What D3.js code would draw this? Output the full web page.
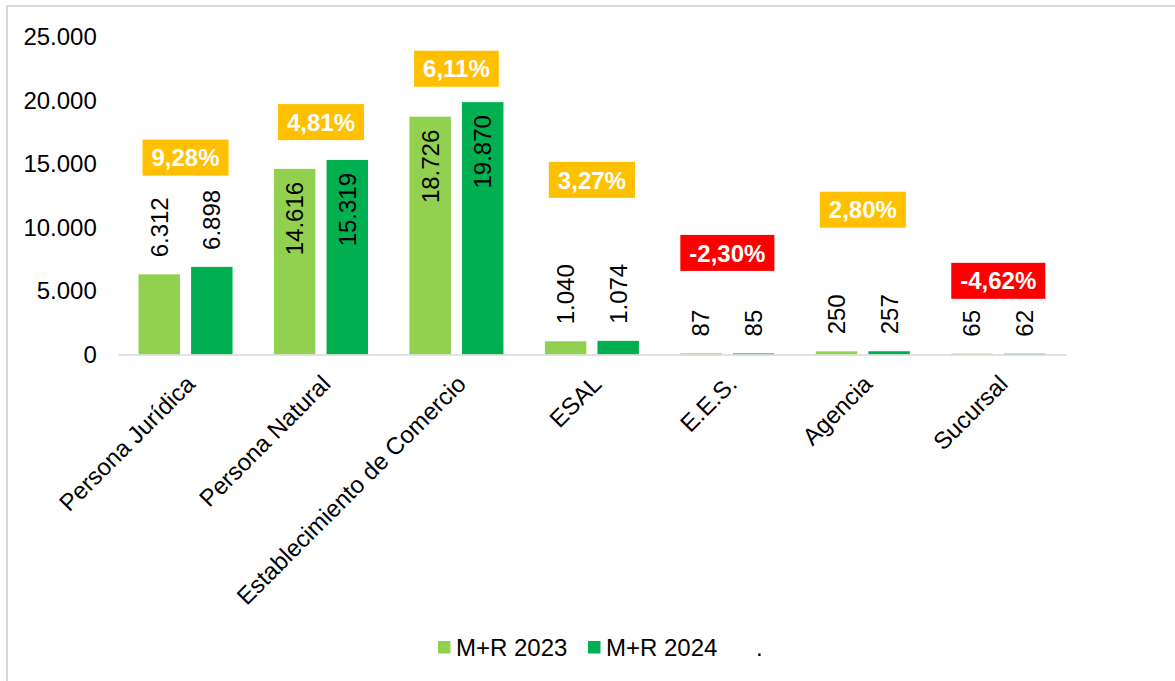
<!DOCTYPE html>
<html lang="es">

<head>
    <meta charset="UTF-8">
    <title>M+R 2023 vs 2024</title>
    <style>
        body { margin: 0; background: #fff; }
        svg { display: block; font-family: "Liberation Sans", Arial, sans-serif; }
    </style>
</head>

<body>
    <script src="https://d3js.org/d3.v7.min.js"></script>
    <script>
        // data
        const categories = ["Persona Jurídica", "Persona Natural", "Establecimiento de Comercio", "ESAL", "E.E.S.", "Agencia", "Sucursal"];
        const series = ["M+R 2023", "M+R 2024"];
        const values2023 = [6312, 14616, 18726, 1040, 87, 250, 65];
        const values2024 = [6898, 15319, 19870, 1074, 85, 257, 62];
        const changePct = [9.28, 4.81, 6.11, 3.27, -2.30, 2.80, -4.62];
        // hidden "." series that carries the % labels
        const dotSeries = [15500, 18300, 22500, 13750, 8000, 11400, 5800];
        const yTicks = [0, 5000, 10000, 15000, 20000, 25000];

        const width = 1175;
        const height = 681;
        const colors = ["#92D050", "#00B050"];
        const axisGray = "#D9D9D9";
        const fontSize = 24;

        const locale = d3.formatLocale({ decimal: ",", thousands: ".", grouping: [3], currency: ["$", ""], minus: "-" });
        const fmtInt = locale.format(",d");
        const fmtPct = locale.format(".2f");

        const svg = d3.select("body").append("svg")
            .attr("width", width)
            .attr("height", height);

        // outer frame
        svg.append("rect")
            .attr("x", 7).attr("y", 6)
            .attr("width", width + 10).attr("height", height + 10)
            .attr("fill", "none")
            .attr("stroke", axisGray)
            .attr("stroke-width", 2);

        const x = d3.scaleBand()
            .domain(categories)
            .range([117.8, 1066])
            .paddingInner(0.306)
            .paddingOuter(0.153);

        const xs = d3.scaleBand()
            .domain(series)
            .range([0, x.bandwidth()])
            .paddingInner(0.212);

        const y = d3.scaleLinear()
            .domain([0, 25000])
            .range([354.5, 37]);

        // y axis (labels only)
        const yAxis = svg.append("g")
            .attr("transform", `translate(117.8,0)`)
            .call(d3.axisLeft(y).tickValues(yTicks).tickFormat(fmtInt).tickSize(0).tickPadding(21));
        yAxis.select(".domain").remove();
        yAxis.selectAll("text")
            .attr("font-family", "Liberation Sans, Arial, sans-serif")
            .attr("font-size", fontSize)
            .attr("fill", "#000");

        // bars
        const rows = categories.map((c, i) => ({ cat: c, vals: [values2023[i], values2024[i]] }));

        const groups = svg.selectAll(".grp")
            .data(rows)
            .enter()
            .append("g")
            .attr("class", "grp")
            .attr("transform", d => `translate(${x(d.cat)},0)`);

        const cells = groups.selectAll(".bar")
            .data(d => d.vals.map((v, j) => ({ s: series[j], v: v, j: j })))
            .enter();

        cells.append("rect")
            .attr("class", "bar")
            .attr("x", d => xs(d.s))
            .attr("y", d => y(d.v))
            .attr("width", xs.bandwidth())
            .attr("height", d => y(0) - y(d.v))
            .attr("fill", d => colors[d.j]);

        // value labels, rotated; tall bars get them inside
        cells.append("text")
            .attr("transform", d => {
                const cx = xs(d.s) + xs.bandwidth() / 2;
                const ty = d.v > 10000 ? y(d.v) + 13 : y(d.v) - 17;
                return `translate(${cx},${ty}) rotate(-90)`;
            })
            .attr("text-anchor", d => d.v > 10000 ? "end" : "start")
            .attr("dy", "0.35em")
            .attr("font-size", fontSize)
            .attr("fill", "#000")
            .text(d => fmtInt(d.v));

        // x axis
        const xAxis = svg.append("g")
            .attr("transform", `translate(0,${y(0)})`)
            .call(d3.axisBottom(x).tickSize(0).tickSizeOuter(0));
        xAxis.select(".domain")
            .attr("stroke", axisGray)
            .attr("stroke-width", 1.5);
        xAxis.selectAll("text")
            .attr("x", 0).attr("y", 0).attr("dy", 0)
            .attr("transform", "translate(11,31) rotate(-45)")
            .attr("text-anchor", "end")
            .attr("font-family", "Liberation Sans, Arial, sans-serif")
            .attr("font-size", fontSize)
            .attr("fill", "#000");

        // % change boxes from the hidden series
        const pct = svg.selectAll(".pct")
            .data(categories.map((c, i) => ({ cat: c, p: changePct[i], v: dotSeries[i] })))
            .enter()
            .append("g")
            .attr("class", "pct")
            .attr("transform", d => `translate(${x(d.cat) + x.bandwidth() / 2},${y(d.v)})`);

        pct.append("rect");
        const pctText = pct.append("text")
            .attr("text-anchor", "middle")
            .attr("dy", "0.36em")
            .attr("font-size", fontSize)
            .attr("font-weight", "bold")
            .attr("fill", "white")
            .text(d => fmtPct(d.p) + "%");

        pctText.each(function (d) {
            const w = this.getComputedTextLength() + 18;
            d3.select(this.parentNode).select("rect")
                .attr("x", -w / 2)
                .attr("y", -18)
                .attr("width", w)
                .attr("height", 36)
                .attr("fill", d.p < 0 ? "#FF0000" : "#FFC000");
        });

        // legend
        const legendItems = [
            { name: series[0], color: colors[0] },
            { name: series[1], color: colors[1] },
            { name: ".", color: null }
        ];
        const legend = svg.selectAll(".leg")
            .data(legendItems)
            .enter()
            .append("g")
            .attr("class", "leg")
            .attr("transform", (d, i) => `translate(${438 + i * 150},641)`);

        legend.filter(d => d.color)
            .append("rect")
            .attr("width", 12.5)
            .attr("height", 12.5)
            .attr("fill", d => d.color);

        legend.append("text")
            .attr("x", 18)
            .attr("y", 15)
            .attr("font-size", fontSize)
            .attr("fill", "#000")
            .text(d => d.name);
    </script>
</body>

</html>
